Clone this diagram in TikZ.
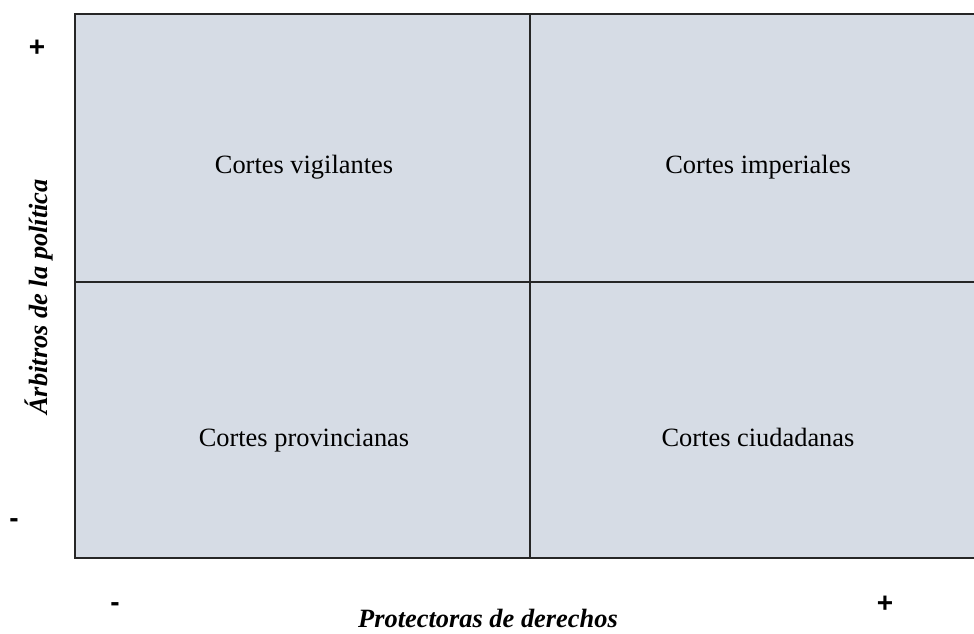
\documentclass[tikz,border=0pt]{standalone}
\usepackage{fontspec}
\setmainfont{Liberation Serif}
\setsansfont{Liberation Sans}
\usepackage{tikz}
\usetikzlibrary{positioning}
\definecolor{quadfill}{RGB}{214,220,229}
\tikzset
{
    quadrant/.style = {font=\fontsize{26.4}{30}\selectfont, align=center, text height=18pt, text depth=6pt},
    axislabel/.style = {font=\fontsize{26.4}{30}\selectfont\bfseries\itshape},
    sign/.style = {font=\fontsize{28}{30}\selectfont\sffamily\bfseries, inner sep=0pt},
    frame/.style = {draw=black!85, line width=1.6pt}
}

\begin{document}
\begin{tikzpicture}[x=1pt, y=-1pt]
	 \newcommand\BOXL{75}
	 \newcommand\BOXR{990}
	 \newcommand\BOXT{14}
	 \newcommand\BOXB{558}
	 \newcommand\MIDX{530}
	 \newcommand\MIDY{282}

   \useasboundingbox (0, 0) rectangle (974, 633);
   \clip (0, 0) rectangle (974, 633);

   % the four quadrants
   \draw[frame, fill=quadfill] (\BOXL, \BOXT) rectangle (\BOXR, \BOXB);
   \coordinate (top)    at (\MIDX, \BOXT);
   \coordinate (bottom) at (\MIDX, \BOXB);
   \coordinate (left)   at (\BOXL, \MIDY);
   \coordinate (right)  at (\BOXR, \MIDY);
   \draw[frame] (top) -- (bottom);
   \draw[frame] (left) -- (right);

   \node (vig)	[quadrant] at (304, 167) {Cortes vigilantes};
   \node (imp)	[quadrant] at (758, 167) {Cortes imperiales};
   \node (prov)	[quadrant] at (304, 440) {Cortes provincianas};
   \node (ciud)	[quadrant] at (758, 440) {Cortes ciudadanas};

   % axes
   \node (yplus)  [sign] at (37, 48)  {+};
   \node (yminus) [sign] at (14, 523) {-};
   \node (xminus) [sign] at (115, 607) {-};
   \node (xplus)  [sign] at (885, 604) {+};

   \node (ylab) [axislabel, rotate=90] at (39, 297) {Árbitros de la política};
   \node (xlab) [axislabel] at (488, 618) {Protectoras de derechos};
\end{tikzpicture}
\end{document}
